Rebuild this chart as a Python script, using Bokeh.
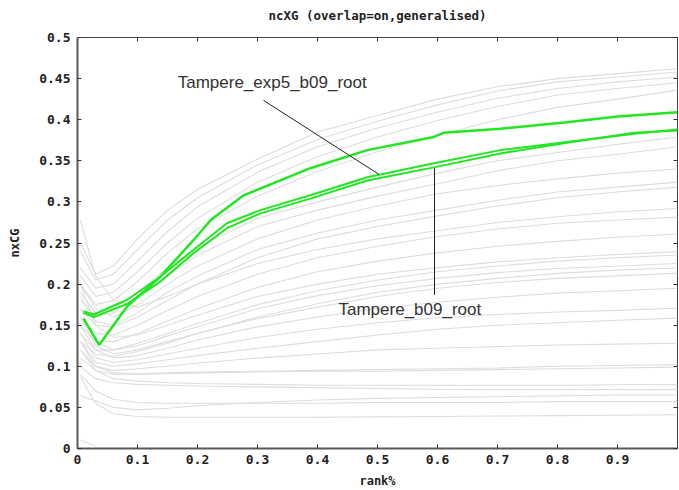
from bokeh.plotting import figure
from bokeh.models import Range1d, FixedTicker, LinearAxis, Label, ColumnDataSource
from bokeh.embed import file_html
from bokeh.resources import INLINE

# ---------------- data ----------------
TITLE = "ncXG (overlap=on,generalised)"
X_LABEL = "rank%"
Y_LABEL = "nxCG"

X_TICKS = [0, 0.1, 0.2, 0.3, 0.4, 0.5, 0.6, 0.7, 0.8, 0.9]
X_TICK_LABELS = ["0", "0.1", "0.2", "0.3", "0.4", "0.5", "0.6", "0.7", "0.8", "0.9"]
Y_TICKS = [0, 0.05, 0.1, 0.15, 0.2, 0.25, 0.3, 0.35, 0.4, 0.45, 0.5]
Y_TICK_LABELS = ["0", "0.05", "0.1", "0.15", "0.2", "0.25", "0.3", "0.35", "0.4", "0.45", "0.5"]

# rank% sample positions shared by the background (grey) runs
RANK = [0.005, 0.03, 0.06, 0.1, 0.15, 0.2, 0.3, 0.4, 0.5, 0.6, 0.7, 0.8, 0.9, 1.0]

grey_01 = [0.25, 0.212, 0.222, 0.255, 0.29, 0.315, 0.352, 0.385, 0.405, 0.425, 0.440, 0.450, 0.456, 0.462]
grey_02 = [0.24, 0.205, 0.212, 0.242, 0.278, 0.305, 0.345, 0.376, 0.398, 0.418, 0.435, 0.446, 0.452, 0.458]
grey_03 = [0.22, 0.195, 0.2, 0.228, 0.264, 0.294, 0.336, 0.367, 0.39, 0.409, 0.426, 0.438, 0.446, 0.452]
grey_04 = [0.21, 0.185, 0.19, 0.215, 0.25, 0.28, 0.324, 0.355, 0.379, 0.399, 0.416, 0.430, 0.438, 0.445]
grey_05 = [0.20, 0.175, 0.18, 0.203, 0.238, 0.267, 0.307, 0.337, 0.361, 0.381, 0.400, 0.415, 0.425, 0.436]
grey_06 = [0.19, 0.165, 0.17, 0.19, 0.22, 0.245, 0.28, 0.30, 0.318, 0.335, 0.35, 0.36, 0.37, 0.379]
grey_07 = [0.18, 0.16, 0.165, 0.185, 0.21, 0.235, 0.27, 0.29, 0.307, 0.322, 0.338, 0.35, 0.358, 0.367]
grey_08 = [0.20, 0.17, 0.16, 0.175, 0.20, 0.222, 0.255, 0.278, 0.295, 0.31, 0.32, 0.328, 0.335, 0.34]
grey_09 = [0.185, 0.155, 0.15, 0.165, 0.19, 0.21, 0.242, 0.262, 0.278, 0.29, 0.302, 0.312, 0.318, 0.324]
grey_10 = [0.17, 0.15, 0.148, 0.16, 0.18, 0.20, 0.232, 0.255, 0.27, 0.283, 0.295, 0.305, 0.312, 0.318]
grey_11 = [0.278, 0.21, 0.18, 0.172, 0.185, 0.20, 0.225, 0.242, 0.255, 0.265, 0.275, 0.282, 0.288, 0.292]
grey_12 = [0.16, 0.14, 0.138, 0.15, 0.168, 0.185, 0.212, 0.232, 0.246, 0.258, 0.267, 0.274, 0.278, 0.2815]
grey_13 = [0.15, 0.13, 0.13, 0.14, 0.155, 0.17, 0.196, 0.215, 0.228, 0.238, 0.246, 0.252, 0.257, 0.261]
grey_14 = [0.20, 0.15, 0.135, 0.138, 0.15, 0.162, 0.185, 0.20, 0.212, 0.22, 0.227, 0.232, 0.236, 0.2395]
grey_15 = [0.14, 0.12, 0.12, 0.128, 0.14, 0.152, 0.175, 0.192, 0.205, 0.215, 0.222, 0.228, 0.232, 0.2354]
grey_16 = [0.17, 0.13, 0.12, 0.125, 0.137, 0.148, 0.17, 0.186, 0.198, 0.207, 0.214, 0.219, 0.222, 0.225]
grey_17 = [0.13, 0.115, 0.112, 0.118, 0.128, 0.14, 0.16, 0.176, 0.19, 0.20, 0.207, 0.213, 0.217, 0.2195]
grey_18 = [0.16, 0.125, 0.115, 0.12, 0.13, 0.14, 0.158, 0.172, 0.185, 0.195, 0.202, 0.207, 0.21, 0.2133]
grey_19 = [0.15, 0.12, 0.11, 0.113, 0.122, 0.132, 0.148, 0.16, 0.17, 0.178, 0.184, 0.189, 0.192, 0.195]
grey_20 = [0.14, 0.11, 0.105, 0.108, 0.115, 0.122, 0.135, 0.145, 0.153, 0.159, 0.163, 0.166, 0.168, 0.1707]
grey_21 = [0.13, 0.105, 0.10, 0.103, 0.108, 0.113, 0.122, 0.13, 0.138, 0.145, 0.15, 0.153, 0.156, 0.1586]
grey_22 = [0.12, 0.10, 0.095, 0.097, 0.10, 0.104, 0.11, 0.115, 0.12, 0.122, 0.124, 0.126, 0.127, 0.128]
grey_23 = [0.11, 0.095, 0.09, 0.091, 0.092, 0.093, 0.094, 0.095, 0.096, 0.097, 0.098, 0.10, 0.101, 0.102]
grey_24 = [0.13, 0.10, 0.092, 0.09, 0.091, 0.092, 0.093, 0.094, 0.094, 0.095, 0.096, 0.097, 0.098, 0.099]
grey_25 = [0.12, 0.095, 0.085, 0.082, 0.08, 0.079, 0.078, 0.077, 0.077, 0.077, 0.077, 0.077, 0.0775, 0.0777]
grey_26 = [0.10, 0.085, 0.08, 0.078, 0.077, 0.076, 0.075, 0.074, 0.073, 0.072, 0.0715, 0.0715, 0.0716, 0.0716]
grey_27 = [0.064, 0.058, 0.05, 0.047, 0.049, 0.052, 0.056, 0.059, 0.061, 0.062, 0.063, 0.064, 0.065, 0.065]
grey_28 = [0.09, 0.07, 0.06, 0.056, 0.055, 0.055, 0.055, 0.055, 0.056, 0.056, 0.056, 0.057, 0.057, 0.057]
grey_29 = [0.087, 0.055, 0.042, 0.039, 0.038, 0.038, 0.038, 0.038, 0.0385, 0.039, 0.0395, 0.04, 0.0405, 0.041]

GREY_RUNS = [grey_01, grey_02, grey_03, grey_04, grey_05, grey_06, grey_07, grey_08, grey_09,
             grey_10, grey_11, grey_12, grey_13, grey_14, grey_15, grey_16, grey_17, grey_18,
             grey_19, grey_20, grey_21, grey_22, grey_23, grey_24, grey_25, grey_26, grey_27,
             grey_28, grey_29]

# short run hugging the x axis at the very start
grey_low_rank = [0.005, 0.03]
grey_low_val = [0.01, 0.003]

# highlighted (green) runs
green_a_rank = [0.01, 0.036, 0.083, 0.138, 0.194, 0.222, 0.277, 0.388, 0.483, 0.594, 0.61, 0.705, 0.816, 0.9, 1.0]
green_a_val = [0.158, 0.126, 0.173, 0.209, 0.254, 0.278, 0.308, 0.341, 0.363, 0.379, 0.384, 0.389, 0.397, 0.404, 0.409]

green_b_rank = [0.01, 0.027, 0.083, 0.138, 0.194, 0.249, 0.305, 0.388, 0.483, 0.594, 0.705, 0.816, 0.928, 1.0]
green_b_val = [0.167, 0.163, 0.181, 0.209, 0.242, 0.274, 0.29, 0.308, 0.330, 0.347, 0.363, 0.373, 0.383, 0.388]
green_c_val = [0.165, 0.160, 0.176, 0.203, 0.238, 0.268, 0.286, 0.304, 0.326, 0.342, 0.359, 0.372, 0.384, 0.387]

# annotations: label text, label anchor, arrow start/end
ANN_1 = "Tampere_exp5_b09_root"
ANN_1_POS = (0.167, 0.445)
ANN_1_LINE = (0.31, 0.4235, 0.502, 0.3337)
ANN_2 = "Tampere_b09_root"
ANN_2_POS = (0.435, 0.1687)
ANN_2_LINE = (0.595, 0.341, 0.595, 0.187)

# ---------------- figure ----------------
MONO = "DejaVu Sans Mono"
AXIS_COL = "#5a5a5a"

p = figure(width=679, height=490, x_range=Range1d(0, 1), y_range=Range1d(0, 0.5),
           output_backend="svg", toolbar_location=None,
           min_border_left=77, min_border_right=2, min_border_top=37, min_border_bottom=41)

p.xgrid.visible = False
p.ygrid.visible = False
p.outline_line_color = "#444444"
p.outline_line_width = 1
p.background_fill_color = "white"
p.border_fill_color = "white"

for ax in (p.xaxis[0], p.yaxis[0]):
    ax.axis_line_color = AXIS_COL
    ax.axis_line_width = 2
    ax.major_tick_in = 4
    ax.major_tick_out = 0
    ax.major_tick_line_color = "#333333"
    ax.minor_tick_line_color = None
    ax.major_label_text_font = MONO
    ax.major_label_text_font_size = "13px"
    ax.major_label_text_font_style = "bold"
    ax.major_label_text_color = "#222222"
    ax.axis_label_text_font = MONO
    ax.axis_label_text_font_size = "12px"
    ax.axis_label_text_font_style = "bold"
    ax.axis_label_text_color = "#222222"

p.xaxis[0].ticker = FixedTicker(ticks=X_TICKS)
p.xaxis[0].major_label_overrides = {t: s for t, s in zip(X_TICKS, X_TICK_LABELS)}
p.xaxis[0].axis_label = X_LABEL
p.xaxis[0].major_label_standoff = 6
p.xaxis[0].axis_label_standoff = 7

p.yaxis[0].ticker = FixedTicker(ticks=Y_TICKS)
p.yaxis[0].major_label_overrides = {t: s for t, s in zip(Y_TICKS, Y_TICK_LABELS)}
p.yaxis[0].axis_label = Y_LABEL
p.yaxis[0].major_label_standoff = 7
p.yaxis[0].axis_label_standoff = 14

blank_x = {t: "" for t in X_TICKS}
blank_y = {t: "" for t in Y_TICKS}
# top axis: inward ticks, and the chart title as its label
top_ax = LinearAxis(ticker=FixedTicker(ticks=X_TICKS), major_label_overrides=blank_x,
                    major_tick_in=4, major_tick_out=0, major_label_standoff=0,
                    axis_line_color=None, minor_tick_line_color=None, major_tick_line_color="#333333",
                    axis_label=TITLE, axis_label_text_font=MONO, axis_label_text_font_size="12.5px",
                    axis_label_text_font_style="bold", axis_label_text_color="#222222",
                    axis_label_standoff=15)
right_ax = LinearAxis(ticker=FixedTicker(ticks=Y_TICKS), major_label_overrides=blank_y,
                      major_tick_in=4, major_tick_out=0, major_label_standoff=0,
                      axis_line_color=None, minor_tick_line_color=None, major_tick_line_color="#333333")
p.add_layout(top_ax, "above")
p.add_layout(right_ax, "right")

# grey background runs
p.multi_line(xs=[RANK] * len(GREY_RUNS), ys=GREY_RUNS, line_color="#dddddd", line_width=1.1)
p.line(grey_low_rank, grey_low_val, line_color="#dddddd", line_width=1.1)

# green runs
GREEN = "#22e622"
p.line(green_b_rank, green_c_val, line_color=GREEN, line_width=2)
p.line(green_b_rank, green_b_val, line_color=GREEN, line_width=2)
p.line(green_a_rank, green_a_val, line_color=GREEN, line_width=2.5)

# annotations
seg_src = ColumnDataSource(dict(x0=[ANN_1_LINE[0], ANN_2_LINE[0]], y0=[ANN_1_LINE[1], ANN_2_LINE[1]],
                                x1=[ANN_1_LINE[2], ANN_2_LINE[2]], y1=[ANN_1_LINE[3], ANN_2_LINE[3]]))
p.segment(x0="x0", y0="y0", x1="x1", y1="y1", source=seg_src, line_color="#222222", line_width=1)

for txt, (lx, ly) in ((ANN_1, ANN_1_POS), (ANN_2, ANN_2_POS)):
    p.add_layout(Label(x=lx, y=ly, text=txt, text_font="Liberation Sans", text_font_size="17px",
                       text_color="#333333", text_baseline="alphabetic", text_align="left"))

open("out.html", "w").write(file_html(p, INLINE))
